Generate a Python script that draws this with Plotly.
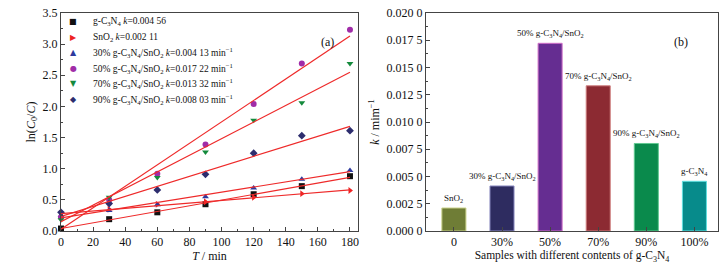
import plotly.graph_objects as go

# ---------------- data ----------------
t_min = [0, 30, 60, 90, 120, 150, 180]
series_names = [
    "g-C<sub>3</sub>N<sub>4</sub> <i>k</i>=0.004 56",
    "SnO<sub>2</sub> <i>k</i>=0.002 11",
    "30% g-C<sub>3</sub>N<sub>4</sub>/SnO<sub>2</sub> <i>k</i>=0.004 13 min<sup>−1</sup>",
    "50% g-C<sub>3</sub>N<sub>4</sub>/SnO<sub>2</sub> <i>k</i>=0.017 22 min<sup>−1</sup>",
    "70% g-C<sub>3</sub>N<sub>4</sub>/SnO<sub>2</sub> <i>k</i>=0.013 32 min<sup>−1</sup>",
    "90% g-C<sub>3</sub>N<sub>4</sub>/SnO<sub>2</sub> <i>k</i>=0.008 03 min<sup>−1</sup>",
]
ln_gc3n4 = [0.04, 0.19, 0.30, 0.43, 0.59, 0.72, 0.88]
ln_sno2 = [0.28, 0.35, 0.43, 0.47, 0.54, 0.60, 0.65]
ln_30 = [0.25, 0.33, 0.42, 0.55, 0.69, 0.83, 0.97]
ln_50 = [0.22, 0.50, 0.92, 1.39, 2.04, 2.69, 3.23]
ln_70 = [0.18, 0.54, 0.86, 1.27, 1.78, 2.06, 2.69]
ln_90 = [0.30, 0.44, 0.66, 0.91, 1.25, 1.53, 1.61]
fit_slopes = [0.00456, 0.00211, 0.00413, 0.01722, 0.01332, 0.00803]
fit_intercepts = [0.04, 0.28, 0.21, 0.03, 0.15, 0.235]

bar_categories = ["0", "30%", "50%", "70%", "90%", "100%"]
bar_k = [0.00211, 0.00413, 0.01722, 0.01332, 0.00803, 0.00456]
bar_labels = [
    "SnO<sub>2</sub>",
    "30% g-C<sub>3</sub>N<sub>4</sub>/SnO<sub>2</sub>",
    "50% g-C<sub>3</sub>N<sub>4</sub>/SnO<sub>2</sub>",
    "70% g-C<sub>3</sub>N<sub>4</sub>/SnO<sub>2</sub>",
    "90% g-C<sub>3</sub>N<sub>4</sub>/SnO<sub>2</sub>",
    "g-C<sub>3</sub>N<sub>4</sub>",
]
k_tickvals = [0, 0.0025, 0.005, 0.0075, 0.01, 0.0125, 0.015, 0.0175, 0.02]
k_ticktext = ["0.000 0", "0.002 5", "0.005 0", "0.007 5", "0.010 0",
              "0.012 5", "0.015 0", "0.017 5", "0.020 0"]

# ---------------- styles ----------------
FONT = "Liberation Serif"
SYMFONT = "DejaVu Sans"
marker_colors = ["#111111", "#ee2222", "#2e3a9e", "#a02ca8", "#148a3c", "#2d2d6e"]
marker_symbols = ["square", "triangle-right", "triangle-up", "circle", "triangle-down", "diamond"]
legend_glyphs = ["■", "▶", "▲", "●", "▼", "◆"]
bar_fill = ["#6f7d36", "#2e2c60", "#652d91", "#8c2a32", "#0a8a4c", "#078b8b"]
bar_line = ["#c8d08a", "#8a8ac0", "#d070c8", "#d08080", "#60c890", "#60e0e0"]
AXC = "#444444"

W, H = 719, 262  # page body has an 8px margin inside the 727x270 window

fig = go.Figure()

all_series = [ln_gc3n4, ln_sno2, ln_30, ln_50, ln_70, ln_90]
for i, ys in enumerate(all_series):
    fig.add_trace(go.Scatter(
        x=t_min, y=ys, mode="markers", name=series_names[i],
        marker=dict(symbol=marker_symbols[i], color=marker_colors[i], size=6),
        xaxis="x", yaxis="y", showlegend=False, cliponaxis=False,
    ))
fit_x = [t_min[0], t_min[-1]]
for i in range(len(fit_slopes)):
    fig.add_trace(go.Scatter(
        x=fit_x, y=[fit_intercepts[i] + fit_slopes[i] * xx for xx in fit_x],
        mode="lines", line=dict(color="#ee2a2a", width=1.2),
        showlegend=False, hoverinfo="skip", xaxis="x", yaxis="y",
    ))

fig.add_trace(go.Bar(
    x=bar_categories, y=bar_k, width=0.5,
    marker=dict(color=bar_fill, line=dict(color=bar_line, width=1)),
    showlegend=False, xaxis="x2", yaxis="y2",
))

bar_annotations = [
    dict(text=bar_labels[i], x=bar_categories[i], y=bar_k[i], xref="x2", yref="y2",
         yanchor="bottom", yshift=2, showarrow=False,
         font=dict(family=FONT, size=9, color="#111"))
    for i in range(len(bar_categories))
]

# manual legend (fixed row spacing like the original)
leg_top = 1 - 13.7 / H
leg_step = 15.5 / H
legend_annotations = []
for i in range(len(series_names)):
    yy = leg_top - i * leg_step
    legend_annotations.append(dict(
        text=legend_glyphs[i], x=65 / W, y=yy, xref="paper", yref="paper",
        xanchor="center", yanchor="middle", showarrow=False,
        font=dict(family=SYMFONT, size=8, color=marker_colors[i])))
    legend_annotations.append(dict(
        text=series_names[i], x=83 / W, y=yy, xref="paper", yref="paper",
        xanchor="left", yanchor="middle", showarrow=False,
        font=dict(family=FONT, size=9.5, color="#111")))

ydom = [1 - 223 / H, 1 - 5 / H]
common_axis = dict(showline=True, linecolor=AXC, linewidth=1, mirror=True,
                   ticks="inside", ticklen=4, tickcolor=AXC, showgrid=False,
                   zeroline=False, automargin=False, ticklabeloverflow="allow",
                   tickfont=dict(family=FONT, size=12, color="#111"))

fig.update_layout(
    width=W, height=H,
    margin=dict(l=0, r=0, t=0, b=0, autoexpand=False),
    paper_bgcolor="white", plot_bgcolor="white",
    font=dict(family=FONT, size=12, color="#111"),
    showlegend=False,
    xaxis=dict(domain=[53 / W, 350 / W], range=[0, 185], dtick=20, anchor="y",
               minor=dict(ticks="inside", ticklen=2, dtick=10, tickcolor=AXC),
               title=dict(text="<i>T</i> / min", standoff=2, font=dict(size=12)),
               **common_axis),
    yaxis=dict(domain=ydom, range=[0, 3.5], dtick=0.5, tickformat=".1f", anchor="x",
               minor=dict(ticks="inside", ticklen=2, dtick=0.25, tickcolor=AXC),
               title=dict(text="ln(<i>C</i><sub>0</sub>/<i>C</i>)", standoff=4, font=dict(size=12)),
               **common_axis),
    xaxis2=dict(domain=[418 / W, 710 / W], range=[-0.58, 5.49], anchor="y2",
                minor=dict(ticks="inside", ticklen=2, tickcolor=AXC),
                title=dict(text="Samples with different contents of g-C<sub>3</sub>N<sub>4</sub>",
                           standoff=0, font=dict(size=11.5)),
                **common_axis),
    yaxis2=dict(domain=ydom, range=[0, 0.02], anchor="x2",
                tickvals=k_tickvals, ticktext=k_ticktext,
                minor=dict(ticks="inside", ticklen=2, dtick=0.00125, tickcolor=AXC),
                title=dict(text="<i>k</i> / mim<sup>−1</sup>", standoff=4, font=dict(size=12)),
                **common_axis),
    annotations=bar_annotations + legend_annotations + [
        dict(text="(a)", x=319 / W, y=1 - 25 / H, xref="paper", yref="paper",
             showarrow=False, font=dict(family=FONT, size=12)),
        dict(text="(b)", x=682 / W, y=1 - 25 / H, xref="paper", yref="paper",
             showarrow=False, font=dict(family=FONT, size=12)),
    ],
)

fig.write_html("out.html")
